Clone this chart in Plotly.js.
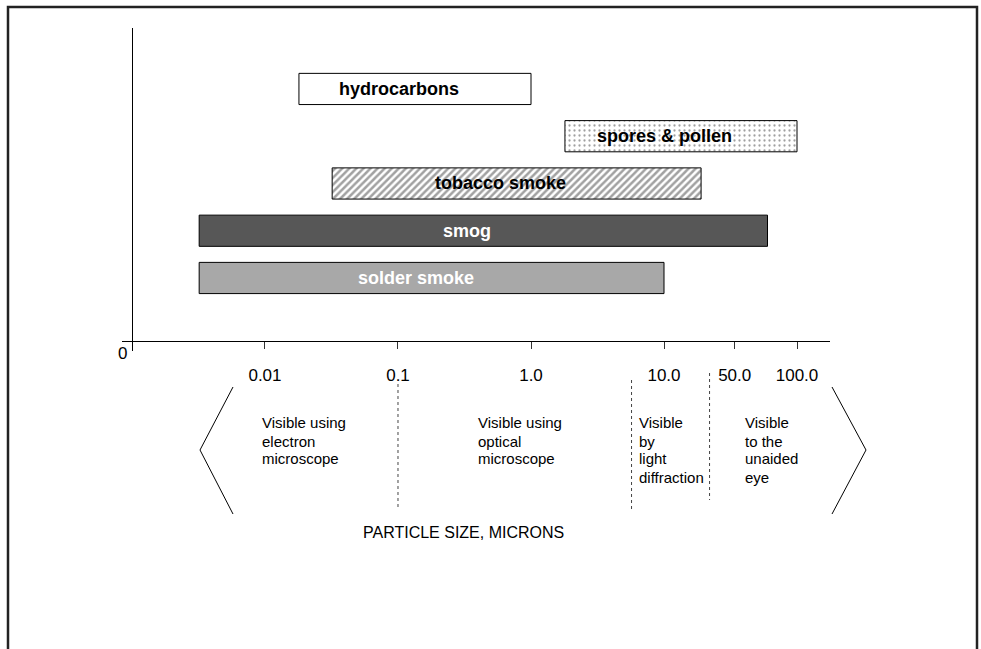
<!DOCTYPE html>
<html>
<head>
<meta charset="utf-8">
<script src="https://cdn.plot.ly/plotly-3.0.1.min.js"></script>
<style>
  body { margin: 0; background: #fff; }
  #chart { width: 981px; height: 649px; }
</style>
</head>
<body>
<div id="chart"></div>
<script>
// particle families, bottom to top
const categories = ["solder smoke", "smog", "tobacco smoke", "spores & pollen", "hydrocarbons"];
// size range in microns
const sizeFrom = [0.0032, 0.0032, 0.032, 1.8, 0.018];
const sizeTo = [10, 60, 19, 100, 1.0];

const barColors = ["#a8a8a8", "#575757", "#ffffff", "#ffffff", "#ffffff"];
const barPatterns = ["", "", "/", ".", ""];
const labelColors = ["#ffffff", "#ffffff", "#000000", "#000000", "#000000"];

// the source figure puts "50.0" off-scale, at roughly the 34 micron mark
const tickVals = [0.01, 0.1, 1, 10, 34, 100];
const tickText = ["0.01", "0.1", "1.0", "10.0", "50.0", "100.0"];

// borders between the visibility regions
const regionBounds = [0.1, 5.7, 22];
const regionText = [
    ["Visible using", "electron", "microscope"],
    ["Visible using", "optical", "microscope"],
    ["Visible", "by", "light", "diffraction"],
    ["Visible", "to the", "unaided", "eye"],
];

// plot box in pixels
const L = 122, T = 28, W = 708, H = 323;
const px = (x) => (x - L) / W;
const py = (y) => (T + H - y) / H;

const FONT = "Liberation Sans, Arial, sans-serif";

const bars = {
    type: "bar",
    orientation: "h",
    y: categories,
    base: sizeFrom,
    x: sizeTo.map((v, i) => v - sizeFrom[i]),
    width: 0.66,
    marker: {
        color: barColors,
        line: { color: "#000", width: 1 },
        pattern: {
            shape: barPatterns,
            fillmode: "overlay",
            fgcolor: "#000",
            size: [5, 5, 5, 5, 5],
            solidity: [0.4, 0.4, 0.5, 0.16, 0.4],
        },
    },
    hoverinfo: "skip",
};

const annotations = categories.map((c, i) => ({
    x: (Math.log10(sizeFrom[i]) + Math.log10(sizeTo[i])) / 2,
    y: c,
    xref: "x",
    yref: "y",
    text: "<b>" + c + "</b>",
    showarrow: false,
    xshift: -16,
    font: { family: FONT, size: 18, color: labelColors[i] },
}));

// "0" at the origin
annotations.push({
    x: px(122), y: py(353), xref: "paper", yref: "paper",
    xanchor: "center", yanchor: "middle",
    text: "0", showarrow: false, font: { family: FONT, size: 17, color: "#000" },
});

// region descriptions, one line at a time to keep the spacing tight
const regionLeft = [260, 476, 637, 743];
regionText.forEach((lines, i) => {
    lines.forEach((t, k) => {
        annotations.push({
            x: px(regionLeft[i]), y: py(423 + k * 18), xref: "paper", yref: "paper",
            xanchor: "left", yanchor: "middle", align: "left",
            text: t, showarrow: false,
            font: { family: FONT, size: 15, color: "#000" },
        });
    });
});

annotations.push({
    x: px(463), y: py(532), xref: "paper", yref: "paper",
    xanchor: "center", yanchor: "middle",
    text: "PARTICLE SIZE, MICRONS", showarrow: false,
    font: { family: FONT, size: 16, color: "#000" },
});

const shapes = [];

// outer frame, bottom edge runs off the page
shapes.push({
    type: "rect", xref: "paper", yref: "paper",
    x0: px(8), x1: px(977), y0: py(7), y1: py(720),
    line: { color: "#222", width: 2.5 },
});

// dotted dividers between regions
const dividerTop = [384, 380, 373];
const dividerBottom = [510, 512, 500];
regionBounds.forEach((b, i) => {
    shapes.push({
        type: "line", xref: "x", yref: "paper",
        x0: b, x1: b, y0: py(dividerTop[i]), y1: py(dividerBottom[i]),
        line: { color: "#444", width: 1, dash: "dot" },
    });
});

// angle brackets at both ends
shapes.push({
    type: "path", xref: "paper", yref: "paper",
    path: "M " + px(233) + " " + py(387) + " L " + px(200) + " " + py(450) + " L " + px(233) + " " + py(514),
    line: { color: "#000", width: 1 },
});
shapes.push({
    type: "path", xref: "paper", yref: "paper",
    path: "M " + px(832) + " " + py(387) + " L " + px(866) + " " + py(450) + " L " + px(832) + " " + py(514),
    line: { color: "#000", width: 1 },
});

const xRange = [-3.075, 2.248];

const layout = {
    width: 981,
    height: 649,
    margin: { l: L, r: 981 - L - W, t: T, b: 649 - T - H },
    paper_bgcolor: "#fff",
    plot_bgcolor: "rgba(0,0,0,0)",
    showlegend: false,
    font: { family: FONT, color: "#000" },
    xaxis: {
        type: "log",
        range: xRange,
        anchor: "free",
        position: py(341),
        tickvals: tickVals,
        ticktext: tickText,
        ticks: "outside",
        ticklen: 7,
        tickcolor: "#333",
        ticklabelstandoff: 12,
        tickfont: { family: FONT, size: 17, color: "#000" },
        showline: true,
        linecolor: "#000",
        linewidth: 1,
        showgrid: false,
        zeroline: false,
        fixedrange: true,
    },
    xaxis2: {
        type: "log",
        range: xRange,
        overlaying: "x",
        anchor: "free",
        position: py(341),
        tickvals: tickVals,
        ticks: "inside",
        ticklen: 8,
        tickcolor: "#333",
        showticklabels: false,
        showline: false,
        showgrid: false,
        zeroline: false,
        fixedrange: true,
    },
    yaxis: {
        type: "category",
        categoryorder: "array",
        categoryarray: categories,
        range: [-1.545, 5.29],
        anchor: "free",
        position: px(132),
        showticklabels: false,
        ticks: "",
        showline: true,
        linecolor: "#000",
        linewidth: 1,
        showgrid: false,
        zeroline: false,
        fixedrange: true,
    },
    annotations: annotations,
    shapes: shapes,
};

Plotly.newPlot("chart", [bars], layout, { displayModeBar: false, staticPlot: true });
</script>
</body>
</html>
